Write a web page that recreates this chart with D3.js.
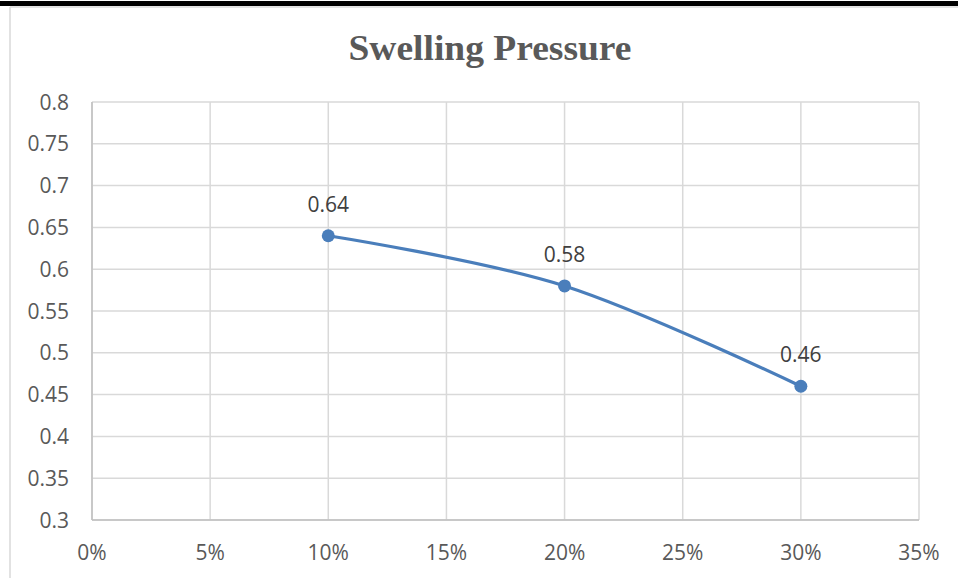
<!DOCTYPE html>
<html><head><meta charset="utf-8">
<script src="https://cdn.jsdelivr.net/npm/d3@7/dist/d3.min.js"></script>
<style>body{margin:0;background:#fff;}svg{display:block;}</style>
</head><body>
<svg id="c" width="958" height="578"></svg>
<script>
const title = "Swelling Pressure";
const xValues = [0.10, 0.20, 0.30];
const yValues = [0.64, 0.58, 0.46];
const dataLabels = ["0.64", "0.58", "0.46"];
const xTicks = [0, 0.05, 0.10, 0.15, 0.20, 0.25, 0.30, 0.35];
const yTicks = [0.3, 0.35, 0.4, 0.45, 0.5, 0.55, 0.6, 0.65, 0.7, 0.75, 0.8];

const svg = d3.select("#c");
const W = 958, H = 578;
const m = {left: 92, right: 919, top: 102, bottom: 520};

// page decorations
svg.append("rect").attr("x",0).attr("y",1).attr("width",W).attr("height",5).attr("fill","#000");
svg.append("line").attr("x1",10).attr("x2",W).attr("y1",7).attr("y2",7).attr("stroke","#d9d9d9").attr("stroke-width",1.5);
svg.append("line").attr("x1",10).attr("x2",10).attr("y1",7).attr("y2",H).attr("stroke","#d9d9d9").attr("stroke-width",1.5);

const x = d3.scaleLinear().domain([0, 0.35]).range([m.left, m.right]);
const y = d3.scaleLinear().domain([0.3, 0.8]).range([m.bottom, m.top]);

// gridlines
svg.append("g").selectAll("line").data(yTicks).join("line")
  .attr("x1", m.left).attr("x2", m.right)
  .attr("y1", d => y(d)).attr("y2", d => y(d))
  .attr("stroke", "#d9d9d9").attr("stroke-width", 1.5);
svg.append("g").selectAll("line").data(xTicks).join("line")
  .attr("x1", d => x(d)).attr("x2", d => x(d))
  .attr("y1", m.top).attr("y2", m.bottom)
  .attr("stroke", "#d9d9d9").attr("stroke-width", 1.5);

// axes lines
svg.append("line").attr("x1", m.left).attr("x2", m.left).attr("y1", m.top).attr("y2", m.bottom).attr("stroke","#bfbfbf").attr("stroke-width",1.5);
svg.append("line").attr("x1", m.left).attr("x2", m.right).attr("y1", m.bottom).attr("y2", m.bottom).attr("stroke","#bfbfbf").attr("stroke-width",1.5);

// axis tick labels
const fontFam = "'Open Sans', 'Noto Sans', sans-serif";
svg.append("g").selectAll("text").data(yTicks).join("text")
  .attr("x", 69).attr("y", d => y(d)).attr("dy", "0.36em")
  .attr("text-anchor", "end").attr("font-family", fontFam).attr("font-size", 21).attr("fill", "#595959")
  .text(d => d3.format("")(+d.toFixed(2)));
svg.append("g").selectAll("text").data(xTicks).join("text")
  .attr("x", d => x(d)).attr("y", 560)
  .attr("text-anchor", "middle").attr("font-family", fontFam).attr("font-size", 21).attr("fill", "#595959")
  .text(d => d3.format(".0%")(d));

// title
const t = svg.append("text").attr("x", 490).attr("y", 60)
  .attr("text-anchor", "middle").attr("font-family", "'Liberation Serif', 'Times New Roman', serif")
  .attr("font-weight", "bold").attr("font-size", 36).attr("fill", "#595959").text(title);
const tl = t.node().getComputedTextLength();
const sx = 283 / tl;
t.attr("transform", `translate(${490*(1-sx)},0) scale(${sx},1)`);

// line
const pts = xValues.map((d, i) => [x(d), y(yValues[i])]);
svg.append("path").attr("d", d3.line().curve(d3.curveCardinal.tension(0))(pts))
  .attr("fill", "none").attr("stroke", "#4a7ebb").attr("stroke-width", 3.2).attr("stroke-linecap","round");
svg.append("g").selectAll("circle").data(pts).join("circle")
  .attr("cx", d => d[0]).attr("cy", d => d[1]).attr("r", 6.5).attr("fill", "#4a7ebb");

// data labels
svg.append("g").selectAll("text").data(pts).join("text")
  .attr("x", d => d[0]).attr("y", d => d[1] - 24)
  .attr("text-anchor", "middle").attr("font-family", fontFam).attr("font-size", 21).attr("fill", "#404040")
  .text((d, i) => dataLabels[i]);
</script>
</body></html>
